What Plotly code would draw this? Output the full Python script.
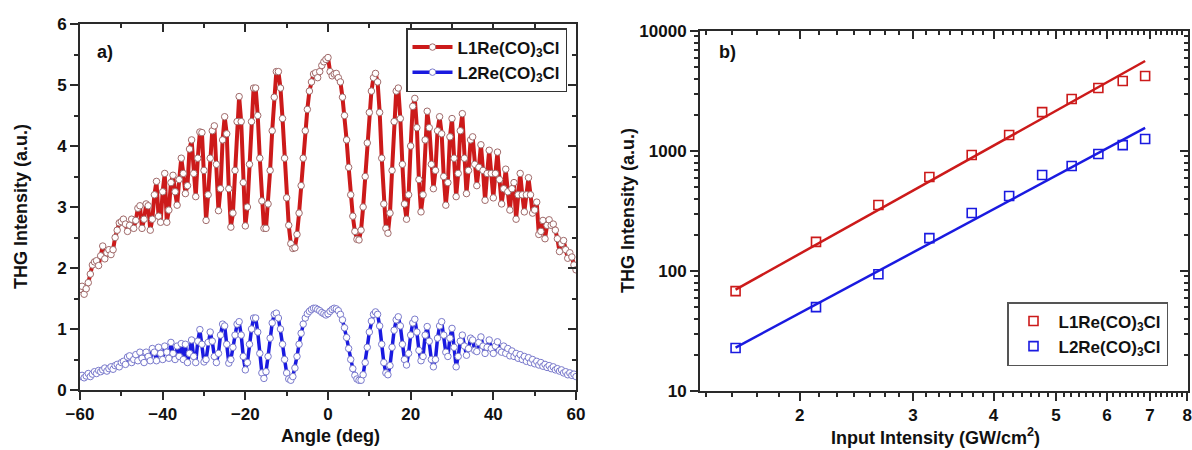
import numpy as np
import plotly.graph_objects as go

# ---------------- data: panel a) (Maker fringes) ----------------
angle_deg = [round(v, 1) for v in np.arange(-60, 60.25, 0.5)]

l1_fringe = [
    1.65, 1.70, 1.57, 1.66, 1.76, 1.90, 2.05, 2.10, 2.12, 2.04,
    2.20, 2.36, 2.15, 2.25, 2.30, 2.22, 2.30, 2.50, 2.62, 2.74,
    2.76, 2.80, 2.72, 2.60, 2.70, 2.80, 2.65, 2.78, 2.98, 3.02,
    2.65, 2.80, 3.05, 3.02, 2.62, 2.80, 3.20, 3.42, 2.85, 2.75,
    3.25, 3.55, 2.75, 2.95, 3.40, 3.52, 3.25, 3.03, 3.45, 3.80,
    3.55, 3.22, 3.35, 3.95, 4.10, 3.55, 3.17, 3.80, 4.23, 4.22,
    3.60, 2.78, 3.20, 3.80, 4.25, 4.33, 3.70, 2.94, 3.30, 4.10,
    4.48, 4.20, 3.30, 2.67, 2.90, 3.60, 4.40, 4.81, 4.40, 3.40,
    2.69, 3.00, 3.70, 4.40, 4.95, 4.95, 4.50, 3.80, 3.10, 2.65,
    2.65, 3.05, 3.60, 4.25, 4.80, 5.22, 5.22, 4.95, 4.45, 3.80,
    3.15, 2.70, 2.40, 2.32, 2.33, 2.55, 2.90, 3.35, 3.80, 4.25,
    4.60, 4.90, 5.05, 5.18, 5.20, 5.12, 5.22, 5.32, 5.38, 5.42,
    5.45, 5.22, 5.15, 5.18, 5.19, 5.12, 5.05, 4.80, 4.50, 4.10,
    3.65, 3.20, 2.85, 2.60, 2.47, 2.46, 2.62, 3.00, 3.50, 4.05,
    4.55, 4.90, 5.12, 5.19, 5.05, 4.55, 3.80, 3.05, 2.65, 2.57,
    2.90, 3.60, 4.40, 4.90, 4.95, 4.45, 3.70, 3.05, 2.80, 3.20,
    4.00, 4.65, 4.78, 4.30, 3.45, 2.92, 3.20, 4.10, 4.57, 4.30,
    3.70, 3.30, 3.60, 4.25, 4.48, 4.20, 3.50, 3.03, 3.40, 4.15,
    4.45, 3.80, 3.17, 3.55, 4.25, 4.53, 3.80, 3.22, 3.60, 4.10,
    4.15, 3.70, 3.35, 3.65, 4.02, 3.60, 3.11, 3.55, 3.93, 3.55,
    3.15, 3.55, 3.90, 3.45, 3.05, 3.30, 3.62, 3.25, 2.95, 3.30,
    3.40, 2.80, 3.20, 3.55, 3.20, 2.92, 3.20, 3.48, 3.20, 2.90,
    2.95, 3.08, 2.55, 2.60, 2.78, 2.48, 2.70, 2.79, 2.70, 2.72,
    2.62, 2.48, 2.27, 2.40, 2.45, 2.30, 2.16, 2.25, 2.18, 2.05,
    1.97,
]

l2_fringe = [
    0.22, 0.24, 0.20, 0.23, 0.27, 0.22, 0.26, 0.30, 0.27, 0.32,
    0.30, 0.33, 0.36, 0.31, 0.35, 0.38, 0.34, 0.40, 0.42, 0.38,
    0.45, 0.47, 0.42, 0.54, 0.56, 0.45, 0.50, 0.58, 0.48, 0.62,
    0.52, 0.45, 0.62, 0.55, 0.48, 0.68, 0.62, 0.48, 0.70, 0.60,
    0.50, 0.72, 0.62, 0.52, 0.78, 0.60, 0.50, 0.72, 0.55, 0.76,
    0.50, 0.75, 0.45, 0.60, 0.82, 0.55, 0.45, 0.80, 0.99, 0.75,
    0.46, 0.50, 0.78, 0.95, 0.80, 0.55, 0.45, 0.60, 0.90, 1.08,
    1.05, 0.75, 0.44, 0.50, 0.70, 0.90, 1.08, 1.12, 0.90, 0.55,
    0.33, 0.45, 0.75, 1.00, 1.18, 1.18, 0.95, 0.60, 0.28, 0.19,
    0.30, 0.55, 0.85, 1.10, 1.24, 1.26, 1.18, 1.00, 0.75, 0.50,
    0.28, 0.18, 0.16, 0.22, 0.36, 0.55, 0.75, 0.93, 1.08, 1.18,
    1.25, 1.29, 1.32, 1.34, 1.34, 1.32, 1.30, 1.27, 1.25, 1.23,
    1.25, 1.29, 1.32, 1.34, 1.33, 1.30, 1.24, 1.15, 1.02, 0.86,
    0.68, 0.50, 0.35, 0.24, 0.18, 0.16, 0.16, 0.25, 0.45, 0.70,
    0.95, 1.13, 1.24, 1.28, 1.24, 1.05, 0.75, 0.45, 0.28, 0.25,
    0.40, 0.70, 0.98, 1.15, 1.20, 1.05, 0.75, 0.50, 0.41, 0.60,
    0.90, 1.10, 1.16, 0.95, 0.65, 0.48, 0.55, 0.90, 1.04, 0.80,
    0.50, 0.38, 0.50, 0.85, 1.05, 1.12, 0.90, 0.62, 0.55, 0.85,
    1.01, 0.70, 0.38, 0.55, 0.80, 0.90, 0.72, 0.57, 0.68, 0.85,
    0.82, 0.65, 0.63, 0.78, 0.87, 0.72, 0.60, 0.70, 0.82, 0.68,
    0.60, 0.72, 0.79, 0.65, 0.62, 0.72, 0.60, 0.68, 0.56, 0.64,
    0.55, 0.60, 0.52, 0.58, 0.50, 0.55, 0.47, 0.53, 0.45, 0.50,
    0.43, 0.47, 0.41, 0.45, 0.39, 0.42, 0.37, 0.40, 0.35, 0.38,
    0.33, 0.35, 0.31, 0.33, 0.28, 0.30, 0.25, 0.28, 0.24, 0.26,
    0.22,
]
assert len(angle_deg) == len(l1_fringe) == len(l2_fringe)

# ---------------- data: panel b) (power dependence) ----------------
input_intensity = [1.59, 2.12, 2.65, 3.18, 3.70, 4.23, 4.76, 5.29, 5.82, 6.35, 6.88]
l1_thg = [68, 175, 355, 607, 926, 1360, 2110, 2710, 3350, 3830, 4220]
l2_thg = [22.8, 50, 94, 188, 304, 422, 631, 750, 944, 1120, 1260]
fit_x = [1.59, 6.88]
l1_fit = [70, 5620]
l2_fit = [23, 1560]

series_names = ["L1Re(CO)<sub>3</sub>Cl", "L2Re(CO)<sub>3</sub>Cl"]

x_ticks_a = [-60, -40, -20, 0, 20, 40, 60]
y_ticks_a = [0, 1, 2, 3, 4, 5, 6]
x_ticks_b = [2, 3, 4, 5, 6, 7, 8]
y_ticks_b = [10, 100, 1000, 10000]

# ---------------- styling ----------------
FONT = "Liberation Sans"
RED = "#cc1a1a"
BLUE = "#1a1ae0"
AX = "#2a2a2a"

W, H = 1192, 450
def px_x(p):
    return p / W
def px_y(p):
    return 1 - p / H

dom_xa = [px_x(80), px_x(576)]
dom_ya = [px_y(390), px_y(24)]
dom_xb = [px_x(700), px_x(1188)]
dom_yb = [px_y(391), px_y(31)]

fig = go.Figure()

# panel a traces
fig.add_trace(go.Scatter(
    x=angle_deg, y=l1_fringe, mode="lines+markers", name=series_names[0],
    line=dict(color=RED, width=4),
    marker=dict(symbol="circle", size=6.5, color="white", line=dict(color="#a06a6a", width=1)),
    xaxis="x", yaxis="y", legend="legend",
))
fig.add_trace(go.Scatter(
    x=angle_deg, y=l2_fringe, mode="lines+markers", name=series_names[1],
    line=dict(color=BLUE, width=3.5),
    marker=dict(symbol="circle", size=6.5, color="white", line=dict(color="#7a7acc", width=1)),
    xaxis="x", yaxis="y", legend="legend",
))

# panel b traces
fig.add_trace(go.Scatter(
    x=fit_x, y=l1_fit, mode="lines", line=dict(color=RED, width=2.5),
    showlegend=False, xaxis="x2", yaxis="y2",
))
fig.add_trace(go.Scatter(
    x=fit_x, y=l2_fit, mode="lines", line=dict(color=BLUE, width=2.5),
    showlegend=False, xaxis="x2", yaxis="y2",
))
fig.add_trace(go.Scatter(
    x=input_intensity, y=l1_thg, mode="markers", name=series_names[0],
    marker=dict(symbol="square-open", size=9, color=RED, line=dict(width=1.6)),
    xaxis="x2", yaxis="y2", legend="legend2",
))
fig.add_trace(go.Scatter(
    x=input_intensity, y=l2_thg, mode="markers", name=series_names[1],
    marker=dict(symbol="square-open", size=9, color=BLUE, line=dict(width=1.6)),
    xaxis="x2", yaxis="y2", legend="legend2",
))

# dummy traces for overlay (inward mirrored ticks) axes
fig.add_trace(go.Scatter(x=[None], y=[None], xaxis="x3", yaxis="y3", showlegend=False, hoverinfo="skip"))
fig.add_trace(go.Scatter(x=[None], y=[None], xaxis="x4", yaxis="y4", showlegend=False, hoverinfo="skip"))

tickfont = dict(family=FONT, size=17, color="#111", weight="bold")
common = dict(showgrid=False, zeroline=False, showline=True, linecolor=AX, linewidth=2,
              ticks="outside", ticklen=8, tickwidth=2, tickcolor=AX, tickfont=tickfont,
              automargin=False, ticklabeloverflow="allow")
overlay_common = dict(showgrid=False, zeroline=False, showline=False, showticklabels=False,
                      ticks="inside", ticklen=8, tickwidth=2, tickcolor=AX, automargin=False)

# Log minor ticks for panel b
minor_x_b = []
for major in [1, 2, 3, 4, 5, 6, 7]:
    for k in range(1, 7):
        v = major + k / 7
        if 1.4 <= v <= 8:
            minor_x_b.append(round(v, 4))
minor_y_b = [m * d for d in [10, 100, 1000] for m in range(2, 10)]
minor_x_a = [-50, -30, -10, 10, 30, 50]
minor_y_a = [0.5, 1.5, 2.5, 3.5, 4.5, 5.5]

lo_b, hi_b = np.log10(1.4), np.log10(8.02)

fig.update_layout(
    width=W, height=H, margin=dict(l=0, r=0, t=0, b=0, autoexpand=False),
    paper_bgcolor="white", plot_bgcolor="white",
    font=dict(family=FONT, size=17, color="#111"),
    xaxis=dict(domain=dom_xa, range=[-60, 60], anchor="y", mirror=True,
               tickmode="array", tickvals=x_ticks_a,
               minor=dict(tickvals=minor_x_a, ticklen=4, tickwidth=2, tickcolor=AX),
               **common),
    yaxis=dict(domain=dom_ya, range=[0, 6], anchor="x", mirror=True,
               tickmode="array", tickvals=y_ticks_a,
               minor=dict(tickvals=minor_y_a, ticklen=4, tickwidth=2, tickcolor=AX),
               **common),
    xaxis3=dict(domain=dom_xa, range=[-60, 60], overlaying="x", side="top", anchor="y3",
                tickmode="array", tickvals=x_ticks_a,
                minor=dict(tickvals=minor_x_a, ticks="inside", ticklen=4, tickwidth=2, tickcolor=AX),
                **overlay_common),
    yaxis3=dict(domain=dom_ya, range=[0, 6], overlaying="y", side="right", anchor="x3",
                tickmode="array", tickvals=y_ticks_a,
                minor=dict(tickvals=minor_y_a, ticks="inside", ticklen=4, tickwidth=2, tickcolor=AX),
                **overlay_common),
    xaxis2=dict(domain=dom_xb, type="log", range=[lo_b, hi_b], anchor="y2", mirror=True,
                tickmode="array", tickvals=x_ticks_b, ticktext=[str(v) for v in x_ticks_b],
                minor=dict(tickvals=minor_x_b, ticklen=4, tickwidth=1.5, tickcolor=AX),
                **common),
    yaxis2=dict(domain=dom_yb, type="log", range=[1, 4], anchor="x2", mirror=True,
                tickmode="array", tickvals=y_ticks_b, ticktext=[str(v) for v in y_ticks_b],
                minor=dict(tickvals=minor_y_b, ticklen=4, tickwidth=1.5, tickcolor=AX),
                **common),
    xaxis4=dict(domain=dom_xb, type="log", range=[lo_b, hi_b], overlaying="x2", side="top", anchor="y4",
                tickmode="array", tickvals=x_ticks_b,
                minor=dict(tickvals=minor_x_b, ticks="inside", ticklen=4, tickwidth=1.5, tickcolor=AX),
                **overlay_common),
    yaxis4=dict(domain=dom_yb, type="log", range=[1, 4], overlaying="y2", side="right", anchor="x4",
                tickmode="array", tickvals=y_ticks_b,
                minor=dict(tickvals=minor_y_b, ticks="inside", ticklen=4, tickwidth=1.5, tickcolor=AX),
                **overlay_common),
    legend=dict(x=px_x(567), y=px_y(28), xanchor="right", yanchor="top",
                bgcolor="white", bordercolor="#333", borderwidth=1.5,
                font=dict(family=FONT, size=17, color="#111", weight="bold"),
                itemwidth=40, tracegroupgap=0),
    legend2=dict(x=px_x(1168), y=px_y(302), xanchor="right", yanchor="top",
                 bgcolor="white", bordercolor="#555", borderwidth=1.5,
                 font=dict(family=FONT, size=17, color="#111", weight="bold"),
                 itemwidth=40, tracegroupgap=0),
    showlegend=True,
)

title_font = dict(family=FONT, size=18, color="#111", weight="bold")
annotations = [
    dict(text="a)", x=px_x(95), y=px_y(52), xanchor="left", yanchor="middle"),
    dict(text="b)", x=px_x(717), y=px_y(52), xanchor="left", yanchor="middle"),
    dict(text="THG Intensity (a.u.)", x=px_x(21), y=px_y(207), textangle=-90,
         xanchor="center", yanchor="middle"),
    dict(text="Angle (deg)", x=px_x(330), y=px_y(436), xanchor="center", yanchor="middle"),
    dict(text="THG Intensity (a.u.)", x=px_x(628), y=px_y(211), textangle=-90,
         xanchor="center", yanchor="middle"),
    dict(text="Input Intensity (GW/cm<sup>2</sup>)", x=px_x(935), y=px_y(436),
         xanchor="center", yanchor="middle"),
]
for a in annotations:
    fig.add_annotation(xref="paper", yref="paper", showarrow=False, font=title_font, **a)

fig.write_html(
    "out.html",
    config={"displayModeBar": False},
    post_script="document.body.style.margin='0';document.body.style.padding='0';"
                "document.documentElement.style.overflow='hidden';",
)
